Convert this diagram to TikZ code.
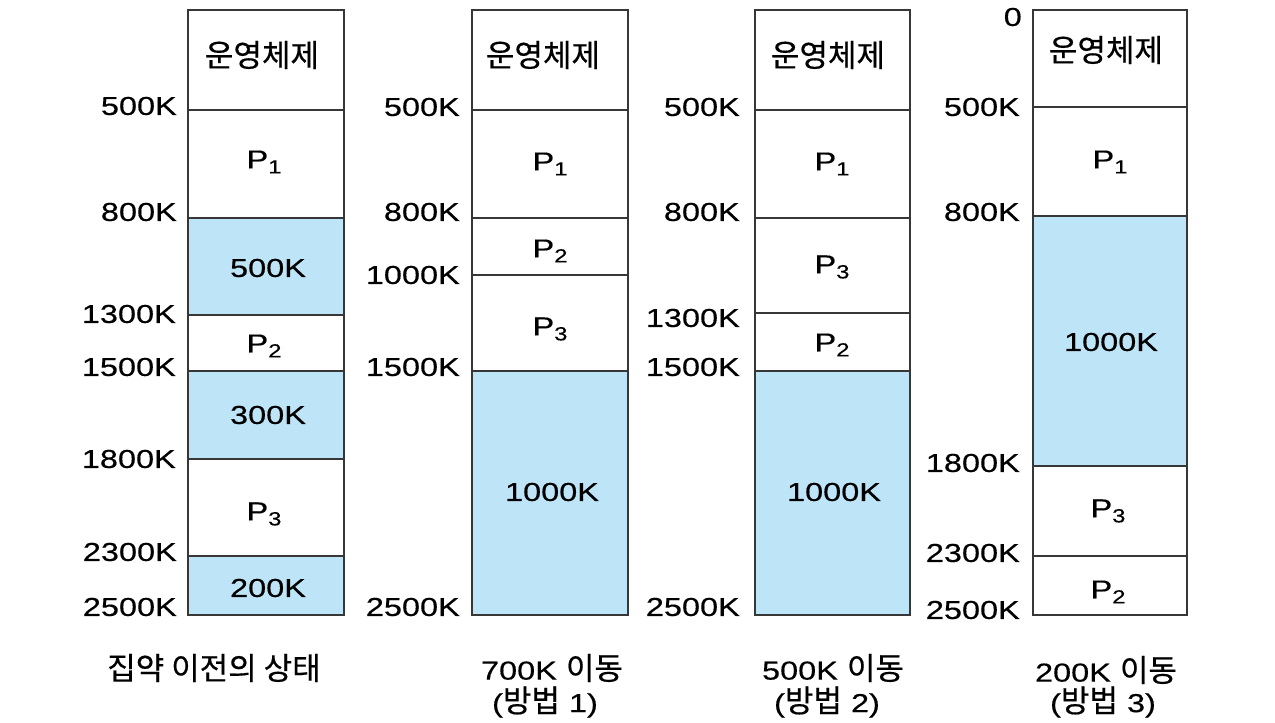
\documentclass[tikz,border=0pt]{standalone}
\usepackage{fontspec}
\newfontfamily\latf[FakeStretch=1.25,FakeBold=0.4]{Liberation Sans}
\newfontfamily\krf[FakeBold=0.5]{Noto Sans CJK KR}
\definecolor{freeblue}{RGB}{190,228,248}
\definecolor{edge}{RGB}{55,55,55}
\newcommand\Pn[1]{P\raisebox{-5pt}{\fontsize{19}{19}\selectfont #1}}
\newcommand\kt[1]{{\krf\fontsize{31}{31}\selectfont #1}}
\begin{document}
\begin{tikzpicture}[x=1pt,y=-1pt,
  seg/.style={draw=edge, line width=1.3pt},
  freeseg/.style={seg, fill=freeblue},
  lab/.style={font=\latf\fontsize{26}{26}\selectfont, anchor=east, inner sep=0pt, text=black},
  txt/.style={font=\latf\fontsize{26}{26}\selectfont, inner sep=0pt, text=black},
  kr/.style={font=\krf\fontsize{31}{31}\selectfont, inner sep=0pt, text=black},
  captiontext/.style={font=\latf\fontsize{26}{26}\selectfont, inner sep=0pt, text=black}]
\useasboundingbox (0,0) rectangle (1275,723);
% ---------- column 1 ----------
\path[seg] (188,10) rectangle (344,110);
\path[seg] (188,110) rectangle (344,218);
\path[freeseg] (188,218) rectangle (344,315);
\path[seg] (188,315) rectangle (344,371);
\path[freeseg] (188,371) rectangle (344,459);
\path[seg] (188,459) rectangle (344,556);
\path[freeseg] (188,556) rectangle (344,615);
\node[kr] (c1os) at (262,55) {운영체제};
\node[txt] (c1p1) at (264,162) {\Pn{1}};
\node[txt] (c1h1) at (268,268) {500K};
\node[txt] (c1p2) at (264,346) {\Pn{2}};
\node[txt] (c1h2) at (268,415) {300K};
\node[txt] (c1p3) at (264,514) {\Pn{3}};
\node[txt] (c1h3) at (268,588) {200K};
\node[lab] (c1a) at (177,106) {500K};
\node[lab] (c1b) at (177,212) {800K};
\node[lab] (c1c) at (176,314) {1300K};
\node[lab] (c1d) at (176,367) {1500K};
\node[lab] (c1e) at (176,459) {1800K};
\node[lab] (c1f) at (177,552) {2300K};
\node[lab] (c1g) at (177,607) {2500K};
\node[kr] (c1cap) at (214,668) {집약 이전의 상태};
% ---------- column 2 ----------
\path[seg] (472,10) rectangle (628,110);
\path[seg] (472,110) rectangle (628,218);
\path[seg] (472,218) rectangle (628,275);
\path[seg] (472,275) rectangle (628,371);
\path[freeseg] (472,371) rectangle (628,615);
\node[kr] (c2os) at (543,55) {운영체제};
\node[txt] (c2p1) at (550,164) {\Pn{1}};
\node[txt] (c2p2) at (550,251) {\Pn{2}};
\node[txt] (c2p3) at (550,329) {\Pn{3}};
\node[txt] (c2h) at (552,492) {1000K};
\node[lab] (c2a) at (460,107) {500K};
\node[lab] (c2b) at (460,212) {800K};
\node[lab] (c2c) at (460,275) {1000K};
\node[lab] (c2d) at (460,367) {1500K};
\node[lab] (c2e) at (460,607) {2500K};
\node[captiontext] (c2cap) at (552,668) {700K \kt{이동}};
\node[captiontext] (c2cap2) at (545,702) {(\kt{방법} 1)};
% ---------- column 3 ----------
\path[seg] (755,10) rectangle (910,110);
\path[seg] (755,110) rectangle (910,218);
\path[seg] (755,218) rectangle (910,313);
\path[seg] (755,313) rectangle (910,371);
\path[freeseg] (755,371) rectangle (910,615);
\node[kr] (c3os) at (828,55) {운영체제};
\node[txt] (c3p1) at (832,164) {\Pn{1}};
\node[txt] (c3p3) at (832,267) {\Pn{3}};
\node[txt] (c3p2) at (832,345) {\Pn{2}};
\node[txt] (c3h) at (834,492) {1000K};
\node[lab] (c3a) at (740,107) {500K};
\node[lab] (c3b) at (740,212) {800K};
\node[lab] (c3c) at (740,318) {1300K};
\node[lab] (c3d) at (740,367) {1500K};
\node[lab] (c3e) at (740,607) {2500K};
\node[captiontext] (c3cap) at (833,668) {500K \kt{이동}};
\node[captiontext] (c3cap2) at (827,702) {(\kt{방법} 2)};
% ---------- column 4 ----------
\path[seg] (1033,10) rectangle (1187,107);
\path[seg] (1033,107) rectangle (1187,216);
\path[freeseg] (1033,216) rectangle (1187,466);
\path[seg] (1033,466) rectangle (1187,556);
\path[seg] (1033,556) rectangle (1187,615);
\node[kr] (c4os) at (1106,50) {운영체제};
\node[txt] (c4p1) at (1110,162) {\Pn{1}};
\node[txt] (c4h) at (1111,342) {1000K};
\node[txt] (c4p3) at (1108,511) {\Pn{3}};
\node[txt] (c4p2) at (1108,592) {\Pn{2}};
\node[lab] (c4z) at (1022,17) {0};
\node[lab] (c4a) at (1020,107) {500K};
\node[lab] (c4b) at (1020,212) {800K};
\node[lab] (c4c) at (1020,463) {1800K};
\node[lab] (c4d) at (1020,553) {2300K};
\node[lab] (c4e) at (1020,610) {2500K};
\node[captiontext] (c4cap) at (1106,670) {200K \kt{이동}};
\node[captiontext] (c4cap2) at (1103,702) {(\kt{방법} 3)};
\end{tikzpicture}
\end{document}
